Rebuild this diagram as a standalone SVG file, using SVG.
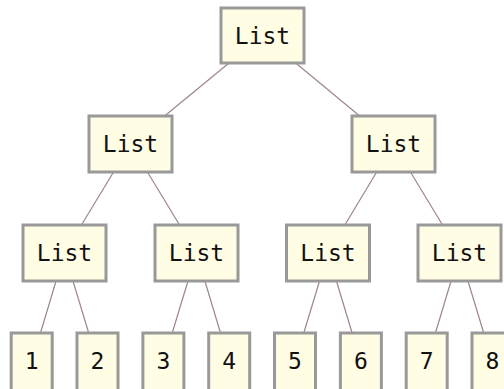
<svg xmlns="http://www.w3.org/2000/svg" width="504" height="389" viewBox="0 0 504 389">
<style>
.box{fill:#fffde4;stroke:#999999;stroke-width:3}
.lbl{font-family:"DejaVu Sans Mono","Liberation Mono",monospace;font-size:23px;fill:#111111;text-anchor:middle}
.conn line{stroke:#9e8686;stroke-width:1.2}
</style>
<rect width="504" height="389" fill="#ffffff"/>
<g class="conn" id="connectors">
<line x1="262.5" y1="35.5" x2="130.5" y2="144"/>
<line x1="262.5" y1="35.5" x2="393.5" y2="144"/>
<line x1="130.5" y1="144" x2="64.5" y2="253"/>
<line x1="130.5" y1="144" x2="196.5" y2="253"/>
<line x1="393.5" y1="144" x2="328" y2="253"/>
<line x1="393.5" y1="144" x2="459.5" y2="253"/>
<line x1="64.5" y1="253" x2="31.7" y2="362"/>
<line x1="64.5" y1="253" x2="97.5" y2="362"/>
<line x1="196.5" y1="253" x2="163.4" y2="362"/>
<line x1="196.5" y1="253" x2="229.2" y2="362"/>
<line x1="328" y1="253" x2="295" y2="362"/>
<line x1="328" y1="253" x2="360.9" y2="362"/>
<line x1="459.5" y1="253" x2="426.7" y2="362"/>
<line x1="459.5" y1="253" x2="492.5" y2="362"/>
</g>
<g id="n0"><rect class="box" x="221" y="8" width="83" height="55"/><text class="lbl" x="262.5" y="43.5">List</text></g>
<g id="n1"><rect class="box" x="89" y="116" width="83" height="56"/><text class="lbl" x="130.5" y="152">List</text></g>
<g id="n2"><rect class="box" x="352" y="116" width="83" height="56"/><text class="lbl" x="393.5" y="152">List</text></g>
<g id="n3"><rect class="box" x="23" y="225" width="83" height="56"/><text class="lbl" x="64.5" y="261">List</text></g>
<g id="n4"><rect class="box" x="155" y="225" width="83" height="56"/><text class="lbl" x="196.5" y="261">List</text></g>
<g id="n5"><rect class="box" x="286.5" y="225" width="83" height="56"/><text class="lbl" x="328" y="261">List</text></g>
<g id="n6"><rect class="box" x="418" y="225" width="83" height="56"/><text class="lbl" x="459.5" y="261">List</text></g>
<g id="l1"><rect class="box" x="11.2" y="333" width="41" height="58"/><text class="lbl" x="31.7" y="369">1</text></g>
<g id="l2"><rect class="box" x="77" y="333" width="41" height="58"/><text class="lbl" x="97.5" y="369">2</text></g>
<g id="l3"><rect class="box" x="142.9" y="333" width="41" height="58"/><text class="lbl" x="163.4" y="369">3</text></g>
<g id="l4"><rect class="box" x="208.7" y="333" width="41" height="58"/><text class="lbl" x="229.2" y="369">4</text></g>
<g id="l5"><rect class="box" x="274.5" y="333" width="41" height="58"/><text class="lbl" x="295" y="369">5</text></g>
<g id="l6"><rect class="box" x="340.4" y="333" width="41" height="58"/><text class="lbl" x="360.9" y="369">6</text></g>
<g id="l7"><rect class="box" x="406.2" y="333" width="41" height="58"/><text class="lbl" x="426.7" y="369">7</text></g>
<g id="l8"><rect class="box" x="472" y="333" width="41" height="58"/><text class="lbl" x="492.5" y="369">8</text></g>
</svg>
